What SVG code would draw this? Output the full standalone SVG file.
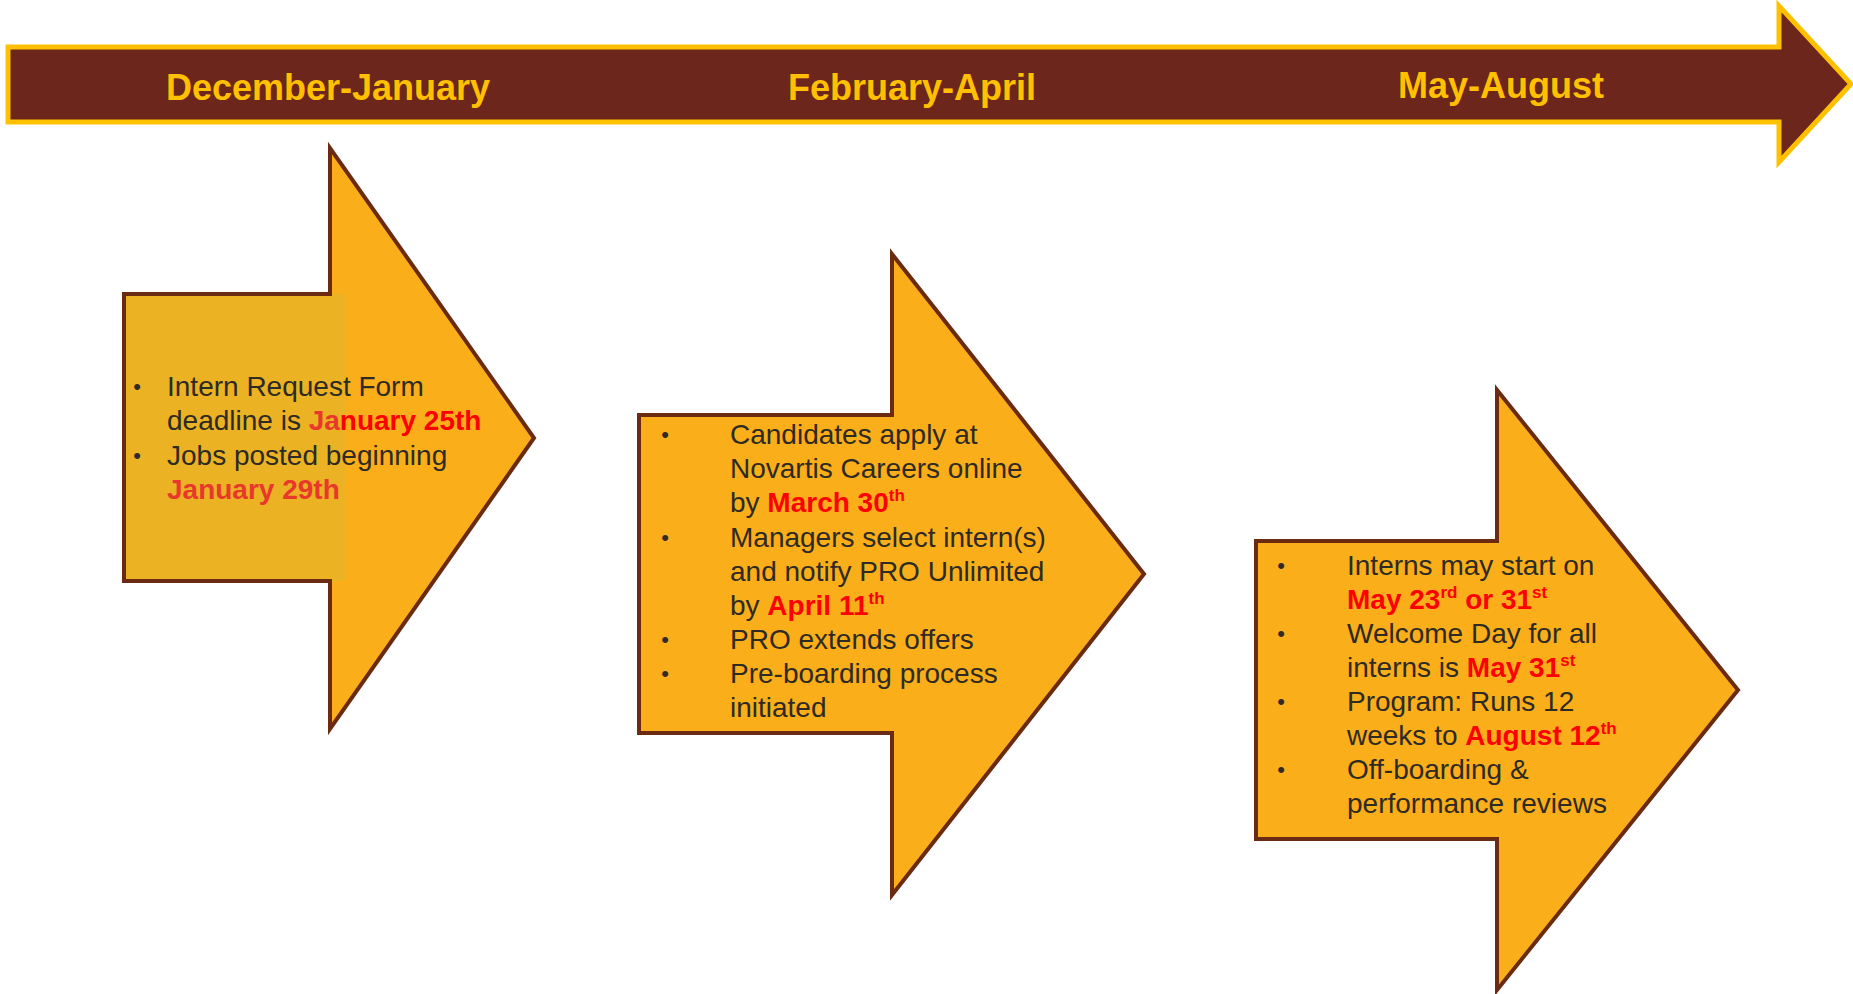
<svg xmlns="http://www.w3.org/2000/svg" width="1853" height="994" viewBox="0 0 1853 994">
<style>
.arrow{fill:#FAAE1A;stroke:none}
.edge{fill:none;stroke:#6B2A12;stroke-width:4;stroke-linejoin:miter}
.hdr{font-family:"Liberation Sans",Arial,sans-serif;font-weight:bold;font-size:36px;fill:#FFC000;text-anchor:middle}
.t{font-family:"Liberation Sans",Arial,sans-serif;font-size:28px;fill:#2E2A24}
.b{font-family:"Liberation Sans",Arial,sans-serif;font-size:22px;fill:#2E2A24;text-anchor:middle}
.r{fill:#FF0000;font-weight:bold}
.r2{fill:#E8382C;font-weight:bold}
.sup{font-size:17px}
</style>
<rect width="1853" height="994" fill="#FFFFFF"/>
<g id="timeline">
<polygon points="8,47 1779,47 1779,6 1851,84 1779,162 1779,122 8,122" fill="#6D261B" stroke="#FFC000" stroke-width="5" stroke-linejoin="miter"/>
<text class="hdr" x="328" y="100">December-January</text>
<text class="hdr" x="912" y="100">February-April</text>
<text class="hdr" x="1501" y="98">May-August</text>
</g>
<g id="connectors"></g>
<g id="step1">
<polygon class="arrow" points="124,294 330,294 330,148 534,438 330,729 330,581 124,581"/>
<rect x="124" y="294" width="221" height="287" fill="#EBB223"/>
<polygon class="edge" points="124,294 330,294 330,148 534,438 330,729 330,581 124,581"/>
<text class="b" x="137" y="394">•</text>
<text class="t" x="167" y="396" fill="#3A3418">Intern Request Form</text>
<text class="t" x="167" y="430">deadline is <tspan class="r2">Ja</tspan><tspan class="r">nuary 25th</tspan></text>
<text class="b" x="137" y="463">•</text>
<text class="t" x="167" y="465">Jobs posted beginning</text>
<text class="t" x="167" y="499"><tspan class="r2">January 29th</tspan></text>
</g>
<g id="step2">
<polygon class="arrow" points="639,415 892,415 892,254 1144,574 892,895 892,733 639,733"/>
<polygon class="edge" points="639,415 892,415 892,254 1144,574 892,895 892,733 639,733"/>
<text class="b" x="665" y="442">•</text>
<text class="t" x="730" y="444">Candidates apply at</text>
<text class="t" x="730" y="478">Novartis Careers online</text>
<text class="t" x="730" y="512">by <tspan class="r">March 30</tspan><tspan class="r sup" dy="-11">th</tspan></text>
<text class="b" x="665" y="545">•</text>
<text class="t" x="730" y="547">Managers select intern(s)</text>
<text class="t" x="730" y="581">and notify PRO Unlimited</text>
<text class="t" x="730" y="615">by <tspan class="r">April 11</tspan><tspan class="r sup" dy="-11">th</tspan></text>
<text class="b" x="665" y="647">•</text>
<text class="t" x="730" y="649">PRO extends offers</text>
<text class="b" x="665" y="681">•</text>
<text class="t" x="730" y="683">Pre-boarding process</text>
<text class="t" x="730" y="717">initiated</text>
</g>
<g id="step3">
<polygon class="arrow" points="1256,541 1497,541 1497,390 1738,690 1497,990 1497,839 1256,839"/>
<polygon class="edge" points="1256,541 1497,541 1497,390 1738,690 1497,990 1497,839 1256,839"/>
<text class="b" x="1281" y="573">•</text>
<text class="t" x="1347" y="575">Interns may start on</text>
<text class="t" x="1347" y="609"><tspan class="r">May 23</tspan><tspan class="r sup" dy="-11">rd</tspan><tspan class="r" dy="11"> or 31</tspan><tspan class="r sup" dy="-11">st</tspan></text>
<text class="b" x="1281" y="641">•</text>
<text class="t" x="1347" y="643">Welcome Day for all</text>
<text class="t" x="1347" y="677">interns is <tspan class="r">May 31</tspan><tspan class="r sup" dy="-11">st</tspan></text>
<text class="b" x="1281" y="709">•</text>
<text class="t" x="1347" y="711">Program: Runs 12</text>
<text class="t" x="1347" y="745">weeks to <tspan class="r">August 12</tspan><tspan class="r sup" dy="-11">th</tspan></text>
<text class="b" x="1281" y="777">•</text>
<text class="t" x="1347" y="779">Off-boarding &amp;</text>
<text class="t" x="1347" y="813">performance reviews</text>
</g>
</svg>
